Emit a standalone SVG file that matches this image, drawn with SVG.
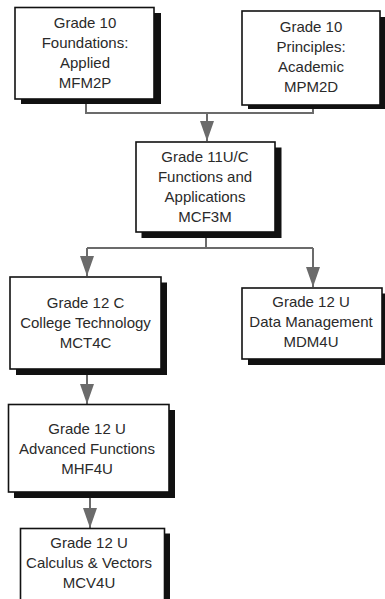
<svg xmlns="http://www.w3.org/2000/svg" width="385" height="599" viewBox="0 0 385 599">
<style>
.shadow{fill:#111}
.box{fill:#fff;stroke:#111;stroke-width:1.6}
.lbl{font-family:"Liberation Sans",Arial,sans-serif;font-size:15px;fill:#2a2a2a;text-anchor:middle}
.conn{fill:none;stroke:#6b6b6b;stroke-width:2}
</style>
<defs>
<marker id="ah" viewBox="0 0 20 14" refX="20" refY="7" markerWidth="20" markerHeight="14" markerUnits="userSpaceOnUse" orient="auto">
<path d="M0,0 L20,7 L0,14 z" fill="#6b6b6b"/>
</marker>
</defs>
<rect width="385" height="599" fill="#fff"/>
<g id="connectors">
<path class="conn" d="M86,99 V113 H313 V105"/>
<path class="conn" d="M207,113 V141" marker-end="url(#ah)"/>
<path class="conn" d="M206,232 V248"/>
<path class="conn" d="M87,248 H313"/>
<path class="conn" d="M87,248 V276" marker-end="url(#ah)"/>
<path class="conn" d="M313,248 V287" marker-end="url(#ah)"/>
<path class="conn" d="M87,375 V404" marker-end="url(#ah)"/>
<path class="conn" d="M90,498 V528" marker-end="url(#ah)"/>
</g>
<g id="mfm2p">
<rect class="shadow" x="21" y="13" width="140" height="91"/>
<rect class="box" x="15" y="7.5" width="139" height="91.5"/>
<text class="lbl" x="85" y="28">Grade 10</text>
<text class="lbl" x="85" y="48">Foundations:</text>
<text class="lbl" x="85" y="68">Applied</text>
<text class="lbl" x="85" y="88">MFM2P</text>
</g>
<g id="mpm2d">
<rect class="shadow" x="248" y="17" width="140" height="92"/>
<rect class="box" x="242" y="11" width="138" height="94"/>
<text class="lbl" x="311" y="32">Grade 10</text>
<text class="lbl" x="311" y="52">Principles:</text>
<text class="lbl" x="311" y="72">Academic</text>
<text class="lbl" x="311" y="92">MPM2D</text>
</g>
<g id="mcf3m">
<rect class="shadow" x="141.5" y="147.5" width="140" height="90.5"/>
<rect class="box" x="136" y="142" width="139" height="90"/>
<text class="lbl" x="205" y="162">Grade 11U/C</text>
<text class="lbl" x="205" y="182">Functions and</text>
<text class="lbl" x="205" y="202">Applications</text>
<text class="lbl" x="205" y="222">MCF3M</text>
</g>
<g id="mct4c">
<rect class="shadow" x="16" y="282.5" width="151" height="92.5"/>
<rect class="box" x="10" y="277" width="151" height="92"/>
<text class="lbl" x="85.5" y="308">Grade 12 C</text>
<text class="lbl" x="85.5" y="328">College Technology</text>
<text class="lbl" x="85.5" y="348">MCT4C</text>
</g>
<g id="mdm4u">
<rect class="shadow" x="248" y="293.5" width="142" height="71.5"/>
<rect class="box" x="242" y="288" width="140" height="71"/>
<text class="lbl" x="311" y="307">Grade 12 U</text>
<text class="lbl" x="311" y="327">Data Management</text>
<text class="lbl" x="311" y="347">MDM4U</text>
</g>
<g id="mhf4u">
<rect class="shadow" x="14" y="410" width="161" height="88"/>
<rect class="box" x="8.5" y="404.5" width="160.5" height="87.5"/>
<text class="lbl" x="87" y="434">Grade 12 U</text>
<text class="lbl" x="87" y="454">Advanced Functions</text>
<text class="lbl" x="87" y="474">MHF4U</text>
</g>
<g id="mcv4u">
<rect class="shadow" x="26" y="533.5" width="144" height="80"/>
<rect class="box" x="20.5" y="528.5" width="144" height="80"/>
<text class="lbl" x="89" y="548">Grade 12 U</text>
<text class="lbl" x="89" y="568">Calculus &amp; Vectors</text>
<text class="lbl" x="89" y="588">MCV4U</text>
</g>
</svg>
